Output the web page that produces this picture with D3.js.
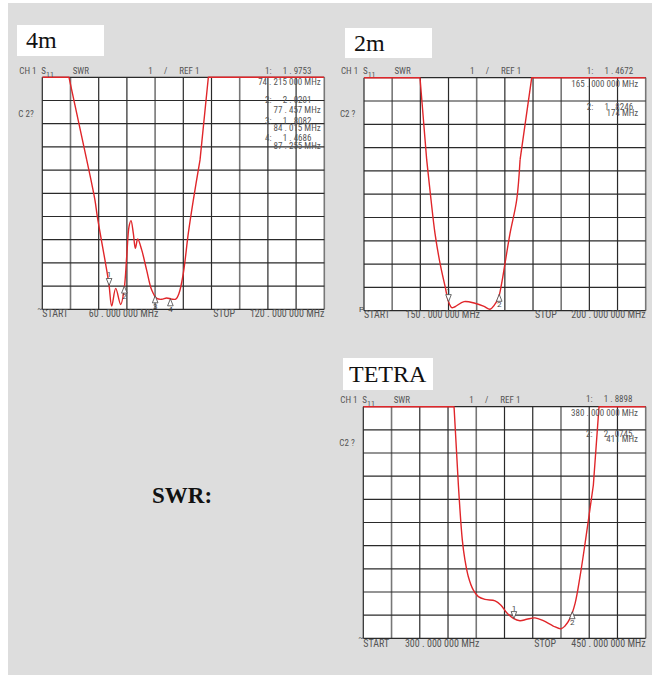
<!DOCTYPE html>
<html>
<head>
<meta charset="utf-8">
<script src="https://cdn.jsdelivr.net/npm/d3@7"></script>
<style>
  body { margin: 0; background: #fff; }
  .hdr { font-family: "Liberation Sans Narrow", "Roboto Condensed", Roboto, sans-serif; font-size: 9px; fill: #555; }
  .ftr { font-family: "Liberation Sans Narrow", "Roboto Condensed", Roboto, sans-serif; font-size: 10px; fill: #555; }
  .mk  { font-family: "Liberation Sans Narrow", Roboto, sans-serif; font-size: 8px; fill: #444; }
  .title { font-family: "Liberation Serif", "DejaVu Serif", serif; font-size: 24px; fill: #111; }
</style>
</head>
<body>
<div id="chart"></div>
<script>
// --- data ---
const freq4m = [60, 65.68, 69.45, 71.2, 71.7, 73.7, 74.2, 74.77, 75.62, 76.68, 77.39, 77.96, 78.45, 78.87, 79.37, 79.8, 80.3, 81.15, 82.2, 83.28, 84.34, 85.4, 86.47, 87.5, 88.39, 89.09, 90, 91.07, 92.13, 93.56, 95.33, 120]
const swr4m = [11, 11, 7.44, 5.71, 5.01, 2.69, 2.05, 1.14, 1.9, 1.21, 1.83, 3.27, 4.56, 4.82, 4.27, 3.63, 4.03, 3.56, 2.69, 1.83, 1.47, 1.43, 1.49, 1.44, 1.44, 1.69, 2.55, 4.28, 5.71, 7.44, 11, 11]

const freq2m = [150, 159.94, 161.13, 161.9, 162.6, 163.5, 164.4, 165, 165.57, 166.15, 167.75, 169.7, 171.2, 172.37, 173.13, 173.84, 174.44, 175.03, 175.92, 177.1, 177.7, 179.77, 200]
const swr2m = [11, 11, 7.47, 5.75, 4.32, 3.03, 2.03, 1.39, 1.13, 1.17, 1.39, 1.32, 1.2, 1.06, 1.24, 1.53, 2.18, 3.03, 4.32, 5.75, 7.47, 11, 11]

const freqTetra = [300, 348.2, 350.5, 352.6, 354, 355.8, 358.4, 361.1, 364.6, 370, 373, 376.2, 379.7, 383.2, 386.8, 391.2, 395.6, 400.9, 405, 407.1, 409.8, 412.5, 415.1, 417.8, 422.2, 425.2, 450]
const swrTetra = [11, 11, 7.62, 5.24, 4.38, 3.66, 3.09, 2.8, 2.68, 2.62, 2.44, 2.1, 1.86, 1.76, 1.82, 1.88, 1.76, 1.53, 1.41, 1.53, 1.86, 2.51, 3.66, 5.1, 7.62, 11, 11]

// markers: frequency, readout value, readout frequency text
const markerFreq4m = [74.215, 77.457, 84.015, 87.255]
const markerVal4m = ["1 . 9753", "2 . 0201", "1 . 8082", "1 . 4686"]
const markerTxt4m = ["74 . 215 000 MHz", "77 . 457 MHz", "84 . 015 MHz", "87 . 255 MHz"]

const markerFreq2m = [165, 174]
const markerVal2m = ["1 . 4672", "1 . 8246"]
const markerTxt2m = ["165 . 000 000 MHz", "174 MHz"]

const markerFreqTetra = [380, 411]
const markerValTetra = ["1 . 8898", "2 . 0745"]
const markerTxtTetra = ["380 . 000 000 MHz", "411 MHz"]

const bands = ["4m", "2m", "TETRA"]
const startLabels = ["60 . 000 000 MHz", "150 . 000 000 MHz", "300 . 000 000 MHz"]
const stopLabels = ["120 . 000 000 MHz", "200 . 000 000 MHz", "450 . 000 000 MHz"]
const sweep = [[60, 120], [150, 200], [300, 450]]
const swrRange = [1, 11]   // REF 1, 1 per division

// --- layout ---
const width = 652, height = 675

const svg = d3.select("#chart").append("svg")
    .attr("width", width)
    .attr("height", height)

svg.append("rect")
    .attr("x", 8).attr("y", 3)
    .attr("width", width - 8).attr("height", height - 3)
    .attr("fill", "#dddddd")

const panels = [
    { freq: freq4m, swr: swr4m, mf: markerFreq4m, mv: markerVal4m, mt: markerTxt4m,
      box: [17, 25, 87, 31], titleX: 26, titleY: 48,
      L: 42.3, T: 77.3, R: 324.3, B: 309.3, freqEnd: 320.7, c2: "C 2?", refSym: "~",
      rows: [[-3.3, 7.7], [26, 36], [47, 53.7], [63.4, 72]], footDy: 7.5 },
    { freq: freq2m, swr: swr2m, mf: markerFreq2m, mv: markerVal2m, mt: markerTxt2m,
      box: [345, 28, 87, 30], titleX: 354, titleY: 51,
      L: 364, T: 77.7, R: 645.7, B: 310.7, freqEnd: 638.3, c2: "C2 ?", refSym: "P",
      rows: [[-3.7, 9.6], [32.3, 38]], footDy: 7.6 },
    { freq: freqTetra, swr: swrTetra, mf: markerFreqTetra, mv: markerValTetra, mt: markerTxtTetra,
      box: [343, 358, 90, 32], titleX: 349, titleY: 382,
      L: 363.3, T: 406.7, R: 645.7, B: 638.3, freqEnd: 638, c2: "C2 ?", refSym: "~",
      rows: [[-4.4, 9], [30, 35.6]], footDy: 9 }
]

panels.forEach((p, pi) => {
    const g = svg.append("g")

    const x = d3.scaleLinear().domain(sweep[pi]).range([p.L, p.R])
    const y = d3.scaleLinear().domain(swrRange).range([p.B, p.T])

    // title box
    g.append("rect")
        .attr("x", p.box[0]).attr("y", p.box[1])
        .attr("width", p.box[2]).attr("height", p.box[3])
        .attr("fill", "white")
    g.append("text")
        .attr("class", "title")
        .attr("x", p.titleX).attr("y", p.titleY)
        .text(bands[pi])

    // plot area
    g.append("rect")
        .attr("x", p.L).attr("y", p.T)
        .attr("width", p.R - p.L).attr("height", p.B - p.T)
        .attr("fill", "white")

    const xTicks = d3.range(11).map(i => sweep[pi][0] + i * (sweep[pi][1] - sweep[pi][0]) / 10)
    const yTicks = d3.range(swrRange[0], swrRange[1] + 1)

    g.selectAll(".vline").data(xTicks).enter().append("line")
        .attr("x1", d => x(d)).attr("x2", d => x(d))
        .attr("y1", p.T).attr("y2", p.B)
        .attr("stroke", (d, i) => i % 3 === 1 ? "#777" : "#2a2a2a")
        .attr("stroke-width", (d, i) => i % 3 === 1 ? 1.6 : 1.2)

    g.selectAll(".hline").data(yTicks).enter().append("line")
        .attr("x1", p.L).attr("x2", p.R)
        .attr("y1", d => y(d)).attr("y2", d => y(d))
        .attr("stroke", "#2a2a2a")
        .attr("stroke-width", 1.2)

    // trace: saturated shoulders are straight, the dip is smoothed
    const clipId = "clip" + pi
    g.append("clipPath").attr("id", clipId)
        .append("rect")
        .attr("x", p.L).attr("y", p.T - 1.2)
        .attr("width", p.R - p.L).attr("height", p.B - p.T + 1.2)

    const pts = p.freq.map((f, i) => [f, p.swr[i]])
    const i0 = pts.findIndex(d => d[1] < swrRange[1])
    let i1 = pts.length - 1
    while (pts[i1][1] >= swrRange[1]) i1--

    const smooth = d3.line()
        .x(d => x(d[0]))
        .y(d => y(d[1]))
        .curve(d3.curveCatmullRom.alpha(0.5))
    const straight = d3.line()
        .x(d => x(d[0]))
        .y(d => y(d[1]))

    const trace = [
        [straight, pts.slice(0, i0 + 1)],
        [smooth, pts.slice(i0, i1 + 1)],
        [straight, pts.slice(i1)]
    ]
    trace.forEach(t => {
        g.append("path")
            .datum(t[1])
            .attr("clip-path", `url(#${clipId})`)
            .attr("d", t[0])
            .attr("fill", "none")
            .attr("stroke", "#e0262a")
            .attr("stroke-width", 1.4)
            .attr("stroke-linejoin", "round")
    })

    // header texts
    const hdr = [["CH 1", -23], ["SWR", 30.4], ["1", 106], ["/", 121.7], ["REF  1", 137]]
    hdr.forEach(h => {
        g.append("text").attr("class", "hdr")
            .attr("x", p.L + h[1]).attr("y", p.T - 3.5)
            .text(h[0])
    })
    const s11 = g.append("text").attr("class", "hdr")
        .attr("x", p.L - 1).attr("y", p.T - 3.5)
        .text("S")
    s11.append("tspan").attr("dy", 3).attr("font-size", "8px").text("11")

    g.append("text").attr("class", "hdr")
        .attr("x", p.L - 24).attr("y", p.T + 39.4)
        .text(p.c2)

    // marker readouts
    p.mf.forEach((f, i) => {
        const r = p.rows[i]
        g.append("text").attr("class", "hdr")
            .attr("x", p.L + 222.7).attr("y", p.T + r[0])
            .text((i + 1) + ":")
        g.append("text").attr("class", "hdr")
            .attr("x", p.L + 240.4).attr("y", p.T + r[0])
            .text(p.mv[i])
        g.append("text").attr("class", "hdr")
            .attr("x", p.freqEnd).attr("y", p.T + r[1])
            .attr("text-anchor", "end")
            .text(p.mt[i])
    })

    // marker triangles on the trace
    const bis = d3.bisector(d => d).left
    const swrAt = f => {
        const j = Math.max(1, bis(p.freq, f))
        const t = (f - p.freq[j - 1]) / (p.freq[j] - p.freq[j - 1])
        return p.swr[j - 1] + t * (p.swr[j] - p.swr[j - 1])
    }
    p.mf.forEach((f, i) => {
        const mx = x(f), my = y(swrAt(f))
        const down = i === 0
        const tri = down
            ? `M${mx},${my} L${mx - 2.8},${my - 7} L${mx + 2.8},${my - 7} Z`
            : `M${mx},${my} L${mx - 2.8},${my + 7} L${mx + 2.8},${my + 7} Z`
        g.append("path").attr("d", tri)
            .attr("fill", "white").attr("stroke", "#444").attr("stroke-width", 0.8)
        g.append("text").attr("class", "mk")
            .attr("x", mx).attr("y", down ? my - 8 : my + 13)
            .attr("text-anchor", "middle")
            .text(i + 1)
    })

    // footer
    g.append("text").attr("class", "mk")
        .attr("x", p.L - 5).attr("y", p.B + 1.5)
        .attr("font-size", "6px")
        .text(p.refSym)
    g.append("text").attr("class", "ftr")
        .attr("x", p.L).attr("y", p.B + p.footDy)
        .text("START")
    g.append("text").attr("class", "ftr")
        .attr("x", p.L + 116).attr("y", p.B + p.footDy)
        .attr("text-anchor", "end")
        .text(startLabels[pi])
    g.append("text").attr("class", "ftr")
        .attr("x", p.L + 171).attr("y", p.B + p.footDy)
        .text("STOP")
    g.append("text").attr("class", "ftr")
        .attr("x", p.R).attr("y", p.B + p.footDy)
        .attr("text-anchor", "end")
        .text(stopLabels[pi])
})

svg.append("text")
    .attr("x", 152).attr("y", 503)
    .attr("font-family", "Liberation Serif, serif")
    .attr("font-weight", "bold")
    .attr("font-size", "23px")
    .attr("fill", "#111")
    .text("SWR:")
</script>
</body>
</html>
